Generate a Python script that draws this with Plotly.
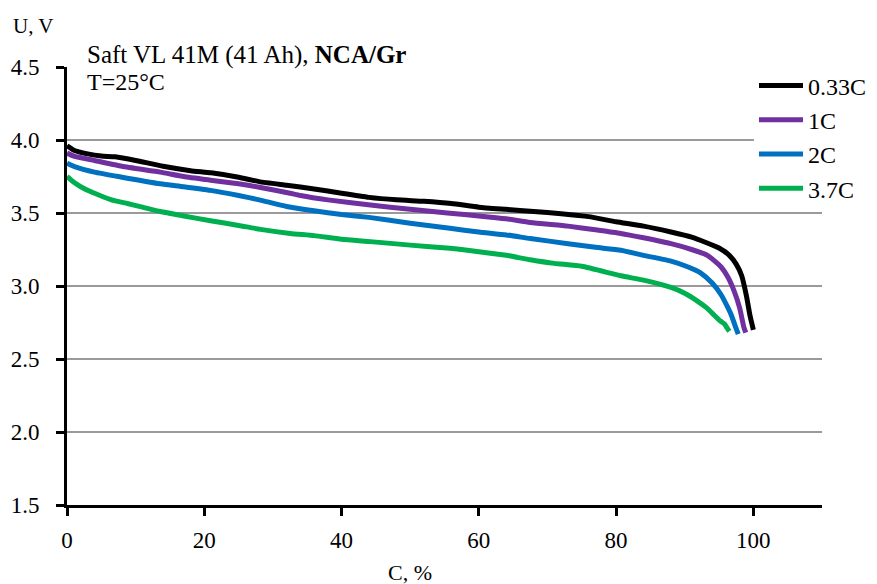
import plotly.graph_objects as go

# Capacity (%) and voltage (V) for each discharge rate
c_033 = [0, 1, 3, 5, 7, 10, 14, 18, 21, 25, 28, 32, 36, 40, 44, 48, 52, 56, 60, 64, 68, 72, 76, 80, 84, 88, 91, 93, 95, 96.5, 97.5, 98.3, 99, 99.5, 100]
u_033 = [3.96, 3.93, 3.905, 3.89, 3.885, 3.86, 3.82, 3.79, 3.775, 3.745, 3.715, 3.69, 3.665, 3.635, 3.607, 3.59, 3.58, 3.565, 3.54, 3.525, 3.51, 3.495, 3.475, 3.44, 3.41, 3.37, 3.335, 3.30, 3.26, 3.21, 3.15, 3.07, 2.93, 2.80, 2.70]

c_1 = [0, 1, 4, 8, 13.6, 17, 20.9, 25, 28.2, 32.5, 34, 38, 44.2, 50, 55.8, 60, 64, 67.5, 73, 77, 80.7, 84, 88, 91, 93.3, 95.3, 96.3, 97.2, 98, 98.6, 98.9]
u_1 = [3.91, 3.89, 3.86, 3.82, 3.78, 3.75, 3.725, 3.70, 3.675, 3.635, 3.62, 3.59, 3.555, 3.525, 3.498, 3.48, 3.46, 3.435, 3.41, 3.385, 3.36, 3.33, 3.29, 3.25, 3.21, 3.13, 3.06, 2.965, 2.85, 2.72, 2.68]

c_2 = [0, 1, 4, 8, 13.6, 17, 20.9, 25, 28, 32, 36, 40, 44, 50, 55.8, 60, 64, 67.5, 73, 77, 80.7, 84, 88, 90.5, 92.3, 94, 95.3, 96.2, 96.8, 97.4, 97.8]
u_2 = [3.84, 3.82, 3.78, 3.745, 3.70, 3.68, 3.655, 3.62, 3.59, 3.545, 3.515, 3.49, 3.47, 3.43, 3.395, 3.37, 3.35, 3.325, 3.29, 3.265, 3.245, 3.21, 3.17, 3.13, 3.09, 3.02, 2.94, 2.86, 2.80, 2.72, 2.67]

c_37 = [0, 1, 2, 3.5, 4.8, 6.5, 8.8, 11, 13.6, 17, 20.9, 25, 28.2, 32.5, 36, 40, 44.2, 50, 55.8, 60, 64, 67.5, 71, 75, 80.7, 84, 88, 90, 91.9, 93.2, 94.3, 95.2, 95.8, 96.2, 96.5]
u_37 = [3.75, 3.71, 3.68, 3.645, 3.62, 3.59, 3.565, 3.54, 3.51, 3.48, 3.447, 3.415, 3.388, 3.36, 3.345, 3.32, 3.304, 3.28, 3.258, 3.235, 3.21, 3.18, 3.155, 3.135, 3.07, 3.04, 2.99, 2.95, 2.895, 2.85, 2.80, 2.76, 2.74, 2.71, 2.69]

series_names = ["0.33C", "1C", "2C", "3.7C"]
series_colors = ["#000000", "#7030A0", "#0070C0", "#00B050"]
series_x = [c_033, c_1, c_2, c_37]
series_y = [u_033, u_1, u_2, u_37]

x_ticks = [0, 20, 40, 60, 80, 100]
y_ticks = [1.5, 2.0, 2.5, 3.0, 3.5, 4.0, 4.5]

FONT = "Liberation Serif, Times New Roman, serif"

fig = go.Figure()
for name, color, xs, ys in zip(series_names, series_colors, series_x, series_y):
    fig.add_trace(go.Scatter(
        x=xs, y=ys, mode="lines", name=name,
        line=dict(color=color, width=5, shape="spline", smoothing=0.5),
    ))

# page body has an 8px margin, so the figure is sized to fit the window
fig.update_layout(
    width=869, height=576,
    margin=dict(l=59, r=55, t=59, b=79, autoexpand=False),
    paper_bgcolor="white", plot_bgcolor="white",
    font=dict(family=FONT, size=23, color="black"),
    showlegend=True,
    legend=dict(
        x=(754 - 67) / 755, xanchor="left",
        y=1.008, yanchor="top",
        bgcolor="white", borderwidth=0,
        font=dict(family=FONT, size=24, color="black"),
        itemwidth=44,
    ),
    xaxis=dict(
        range=[0, 110], tickvals=x_ticks,
        showgrid=False, zeroline=False,
        showline=True, linecolor="black", linewidth=3,
        ticks="outside", ticklen=8, tickwidth=3, tickcolor="black",
        ticklabelstandoff=4,
        tickfont=dict(family=FONT, size=23, color="black"),
    ),
    yaxis=dict(
        range=[1.5, 4.5], tickvals=y_ticks, tickformat=".1f",
        showgrid=True, gridcolor="#9a9a9a", gridwidth=1.5,
        zeroline=False,
        showline=True, linecolor="black", linewidth=3,
        ticks="outside", ticklen=8, tickwidth=3, tickcolor="black",
        ticklabelstandoff=12,
        tickfont=dict(family=FONT, size=23, color="black"),
    ),
    annotations=[
        dict(text="U, V", xref="paper", yref="paper", x=(11 - 67) / 755, y=(505 - 26) / 438,
             xanchor="left", yanchor="middle", showarrow=False,
             font=dict(family=FONT, size=21, color="black")),
        dict(text="C, %", xref="x", yref="paper", x=50, y=(505 - 572) / 438,
             xanchor="center", yanchor="middle", showarrow=False,
             font=dict(family=FONT, size=22, color="black")),
        dict(text="Saft VL 41M (41 Ah), <b>NCA/Gr</b>", xref="paper", yref="paper",
             x=(85 - 67) / 755, y=(505 - 55) / 438,
             xanchor="left", yanchor="middle", showarrow=False,
             font=dict(family=FONT, size=25, color="black")),
        dict(text="T=25°C", xref="paper", yref="paper",
             x=(85 - 67) / 755, y=(505 - 82) / 438,
             xanchor="left", yanchor="middle", showarrow=False,
             font=dict(family=FONT, size=24, color="black")),
    ],
)

fig.write_html("out.html")
